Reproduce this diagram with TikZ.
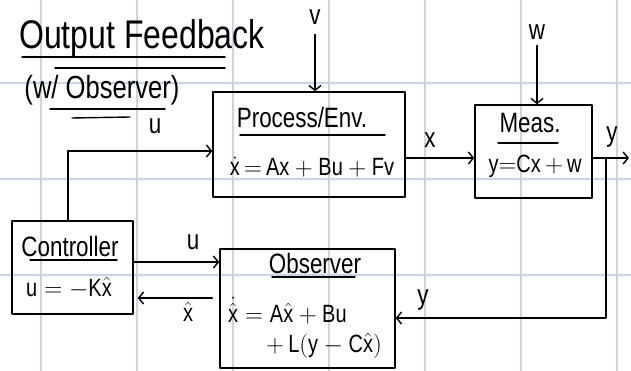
\documentclass[tikz,border=0pt]{standalone}
\usepackage{fontspec}
\setmainfont{Liberation Sans}[FakeStretch=0.8]
\usetikzlibrary{arrows.meta}
\definecolor{gridblue}{RGB}{200,213,232}
% upright handwritten-style letters inside formulas
\newcommand{\tx}[1]{\hbox{#1}}
\begin{document}
\begin{tikzpicture}[x=1pt,y=-1pt,
  gridline/.style={gridblue, line width=1.3pt},
  ink/.style={line width=1.4pt, line cap=round, line join=round},
  blk/.style={draw, ink, rectangle, inner sep=0pt},
  arr/.style={ink, -{Straight Barb[length=5pt,width=12pt]}},
  txt/.style={inner sep=0pt, font=\fontsize{28}{30}\selectfont},
  big/.style={inner sep=0pt, font=\fontsize{40}{42}\selectfont},
  mid/.style={inner sep=0pt, font=\fontsize{32}{34}\selectfont},
  eqn/.style={inner sep=0pt, font=\fontsize{25}{27}\selectfont}]
\useasboundingbox (0,0) rectangle (631,371);
\fill[white] (0,0) rectangle (631,371);

% squared paper
\foreach \gx in {41,137,233,329,425,521,617}
  \draw[gridline] (\gx,0) -- (\gx,371);
\foreach \gy in {83,179,275}
  \draw[gridline] (0,\gy) -- (631,\gy);

% heading
\node[big] (title) at (142,38) {Output Feedback};
\draw[ink] (22,57) -- (225,57);
\draw[ink] (55,68) -- (225,68);
\node[mid] (subtitle) at (102,90) {(w/ Observer)};
\draw[ink] (50,109) -- (165,109);
\draw[ink] (72,118) -- (130,117);

% blocks
\node[blk, minimum width=192pt, minimum height=105pt] (proc) at (309,144.5) {};
\node[txt] (proct) at (302,117) {Process/Env.};
\draw[ink] (240,135) -- (385,135);
\node[eqn] (proce) at (312,167) {$\dot{\tx{x}}\,{=}\,\tx{Ax}+\tx{Bu}+\tx{Fv}$};

\node[blk, minimum width=117pt, minimum height=93pt] (meas) at (533.5,151.5) {};
\node[txt] (meast) at (530,123) {Meas.};
\draw[ink] (498,143) -- (558,143);
\node[eqn] (mease) at (535,166) {$\tx{y}{=}\tx{Cx}\,{+}\,\tx{w}$};

\node[blk, minimum width=121pt, minimum height=93pt] (ctrl) at (72.5,267.5) {};
\node[txt] (ctrlt) at (70,246) {Controller};
\draw[ink] (30,260) -- (117,260);
\node[eqn] (ctrle) at (69,288) {$\tx{u}={-}\tx{K}\hat{\tx{x}}$};

\node[blk, minimum width=175pt, minimum height=119pt] (obs) at (307.5,308.5) {};
\node[txt] (obst) at (315,263) {Observer};
\draw[ink] (272,277) -- (355,277);
\node[eqn, anchor=west] (obse1) at (228,311) {$\dot{\hat{\tx{x}}}=\tx{A}\hat{\tx{x}}+\tx{Bu}$};
\node[eqn, anchor=west] (obse2) at (266,346) {${+}\,\tx{L}(\tx{y}-\tx{C}\hat{\tx{x}})$};

% disturbances
\node[txt] (vlab) at (315,17) {v};
\draw[arr, shorten <=10pt] (vlab.south) -- (vlab.south |- proc.north);
\node[txt] (wlab) at (537,32) {w};
\draw[arr, shorten <=6pt] (wlab.south) -- (wlab.south |- meas.north);

% signals
\coordinate (xs) at ([yshift=-13.5pt]proc.east);
\draw[arr] (xs) -- (xs -| meas.west);
\node[txt] (xlab) at (430,140) {x};

\coordinate (ytap) at (606,158);
\coordinate (yend) at (629,158);
\draw[arr] (meas.east |- ytap) -- (yend);
\node[txt] (ylab) at (612,137) {y};
\coordinate (yin) at ([yshift=-9.5pt]obs.east);
\draw[arr] (ytap) |- (yin);
\node[txt] (ylab2) at (423,300) {y};

\coordinate (ucin) at ([yshift=-6.5pt]proc.west);
\draw[arr] ([xshift=-4.5pt]ctrl.north) |- (ucin);
\node[txt] (ulab) at (155,126) {u};

\coordinate (uo) at ([yshift=5.5pt]ctrl.east);
\draw[arr] (uo) -- (uo -| obs.west);
\node[txt] (ulab2) at (193,242) {u};

\coordinate (xh) at ([yshift=10.5pt]obs.west);
\draw[arr, shorten <=7pt, shorten >=4pt] (xh) -- (xh -| ctrl.east);
\node[eqn] (xhlab) at (188,312) {$\hat{\tx{x}}$};
\end{tikzpicture}
\end{document}
